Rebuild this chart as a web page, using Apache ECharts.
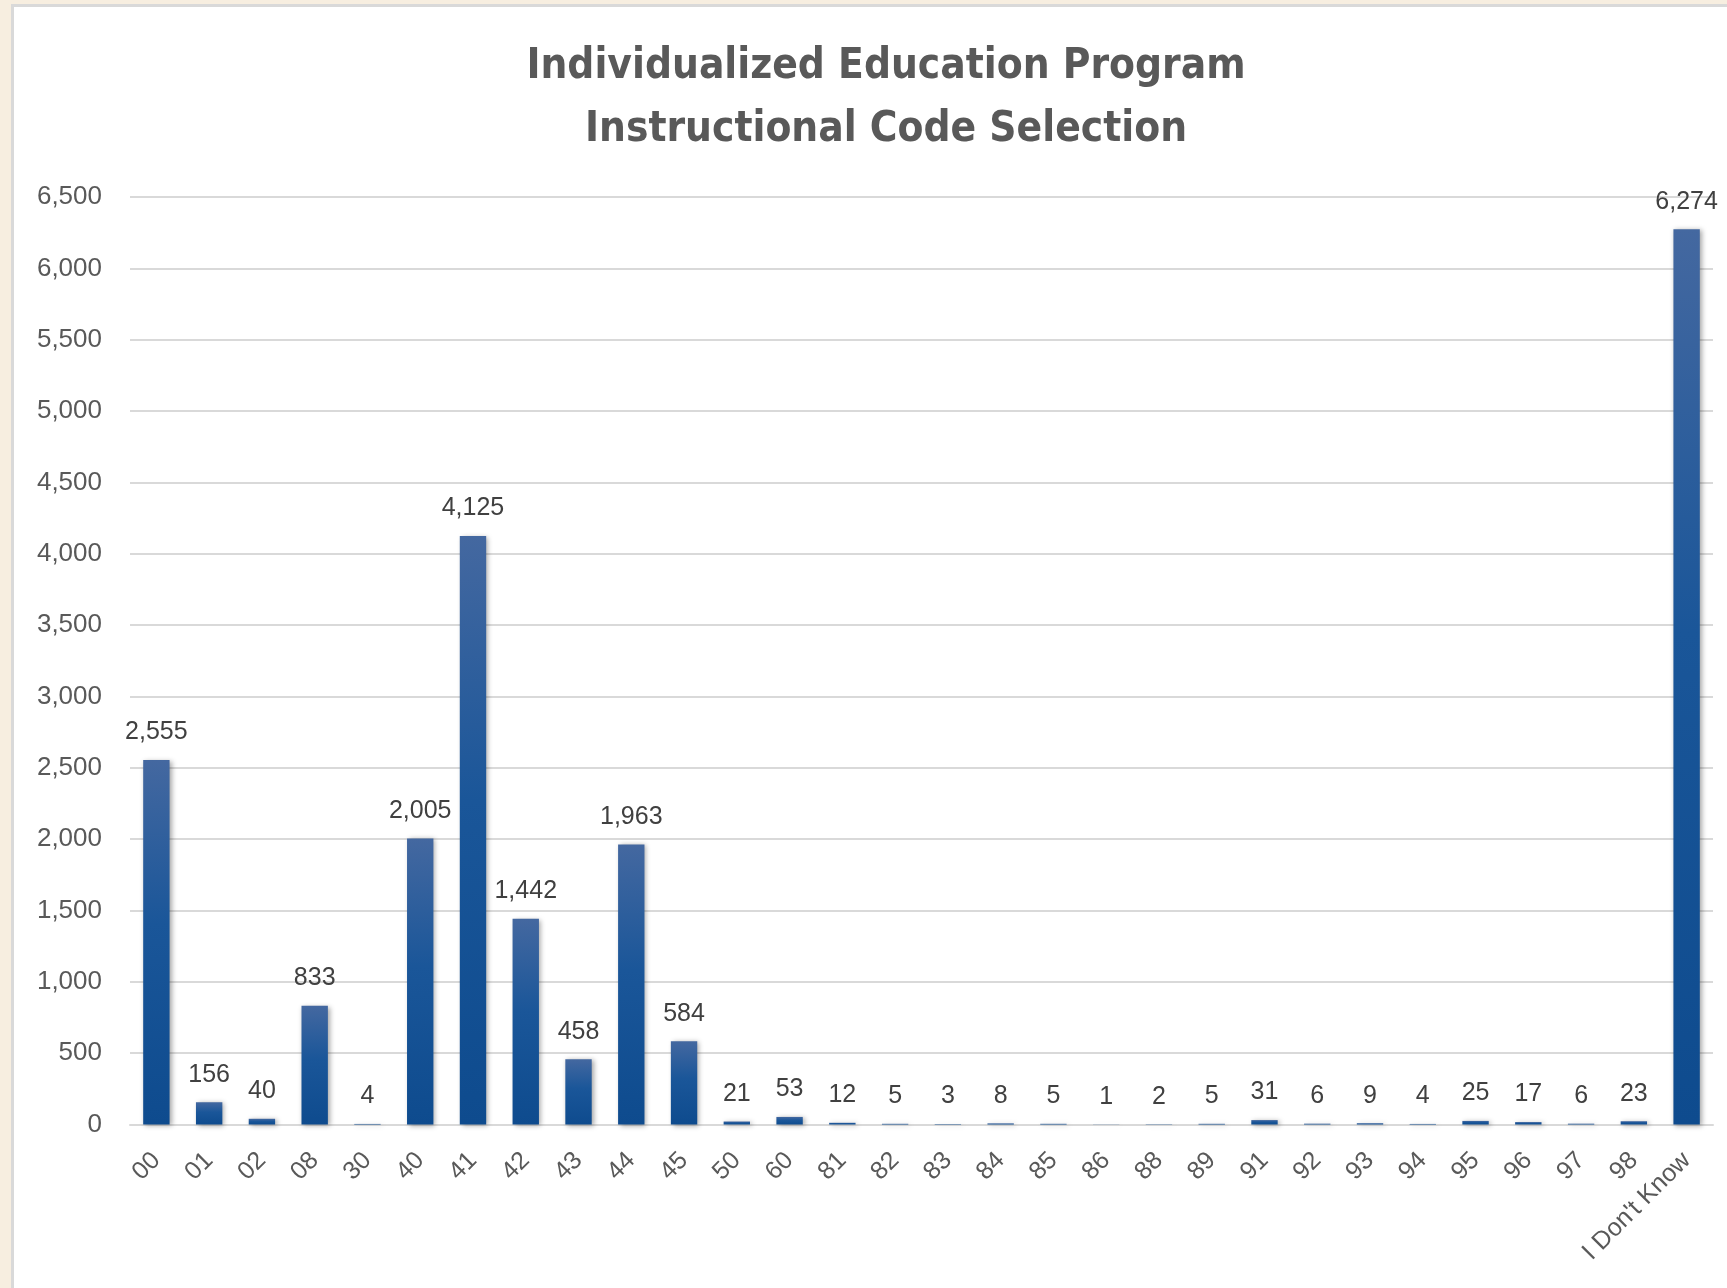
<!DOCTYPE html>
<html>
<head>
<meta charset="utf-8">
<script src="https://cdn.jsdelivr.net/npm/echarts@6/dist/echarts.min.js"></script>
<style>
  html, body { margin: 0; padding: 0; width: 1727px; height: 1288px; background: #f7eee0; overflow: hidden; }
  #panel { position: absolute; left: 11px; top: 4px; width: 1730px; height: 1300px; background: #ffffff; border: 3px solid #d9d9d9; box-sizing: border-box; }
  #chart { position: absolute; left: 0; top: 0; width: 1727px; height: 1288px; }
</style>
</head>
<body>
<div id="panel"></div>
<div id="chart"></div>
<script>
const categories = ['00','01','02','08','30','40','41','42','43','44','45','50','60','81','82','83','84','85','86','88','89','91','92','93','94','95','96','97','98',"I Don't Know"];
const counts = [2555,156,40,833,4,2005,4125,1442,458,1963,584,21,53,12,5,3,8,5,1,2,5,31,6,9,4,25,17,6,23,6274];
const titleLines = ['Individualized Education Program', 'Instructional Code Selection'];
const yMin = 0, yMax = 6500, yStep = 500;

const fmt = v => Number(v).toLocaleString('en-US');
const chart = echarts.init(document.getElementById('chart'), null, { renderer: 'canvas' });
chart.setOption({
  backgroundColor: 'transparent',
  animation: false,
  title: {
    text: titleLines.join('\n'),
    left: 881,
    textAlign: 'center',
    top: 31,
    textStyle: {
      fontFamily: '"Liberation Sans Narrow", "DejaVu Sans Condensed", Roboto, sans-serif',
      fontWeight: 'bold',
      fontSize: 42,
      lineHeight: 63,
      color: '#595959'
    }
  },
  grid: { left: 130, right: 14, top: 197, bottom: 163.5, containLabel: false },
  xAxis: {
    type: 'category',
    data: categories,
    axisLine: { show: true, lineStyle: { color: '#d9d9d9', width: 2 } },
    axisTick: { show: false },
    axisLabel: {
      interval: 0,
      rotate: 45,
      margin: 32,
      color: '#595959',
      fontSize: 25,
      fontFamily: '"Liberation Sans", Arial, sans-serif'
    }
  },
  yAxis: {
    type: 'value',
    min: yMin, max: yMax, interval: yStep,
    axisLine: { show: false },
    axisTick: { show: false },
    splitLine: { lineStyle: { color: '#d9d9d9', width: 2 } },
    axisLabel: {
      margin: 28,
      color: '#595959',
      fontSize: 26,
      fontFamily: '"Liberation Sans", Arial, sans-serif',
      formatter: v => fmt(v)
    }
  },
  series: [{
    type: 'bar',
    data: counts,
    barWidth: '50%',
    itemStyle: {
      color: new echarts.graphic.LinearGradient(0, 0, 0, 1, [
        { offset: 0, color: '#4468a0' },
        { offset: 0.45, color: '#1a5699' },
        { offset: 1, color: '#0e4b8e' }
      ]),
      shadowColor: 'rgba(0,0,0,0.35)',
      shadowBlur: 5,
      shadowOffsetX: 2,
      shadowOffsetY: 1
    },
    label: {
      show: true,
      position: 'top',
      distance: 15,
      color: '#404040',
      fontSize: 25,
      fontFamily: '"Liberation Sans", Arial, sans-serif',
      formatter: p => fmt(p.value)
    }
  }]
});
</script>
</body>
</html>
